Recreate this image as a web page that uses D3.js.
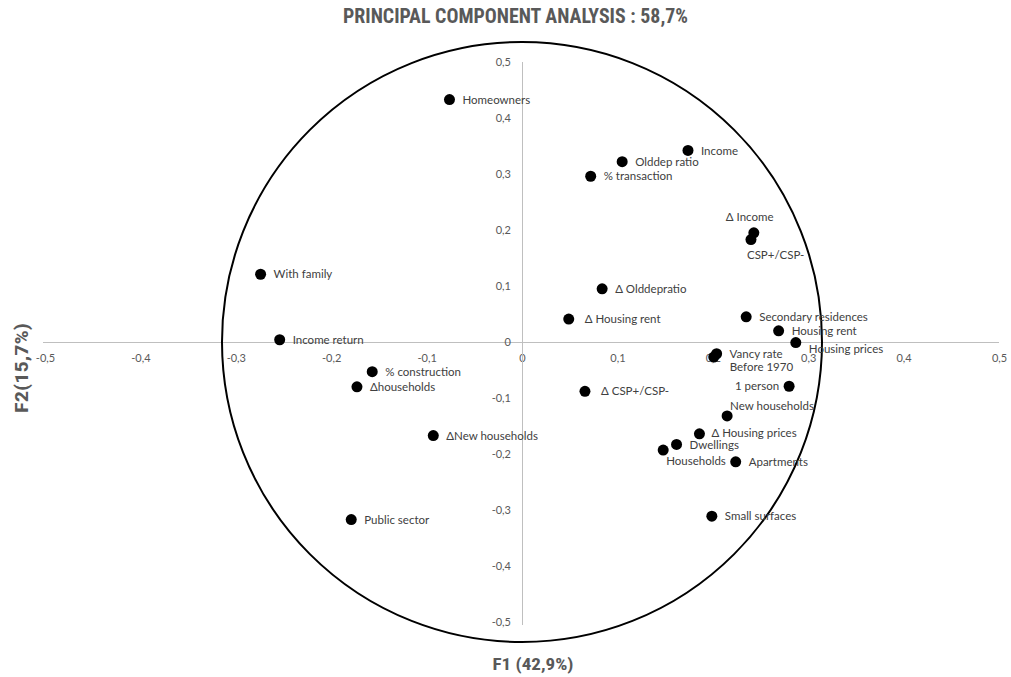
<!DOCTYPE html>
<html>
<head>
<meta charset="utf-8">
<script src="https://cdn.jsdelivr.net/npm/d3@7"></script>
<style>
  body { margin: 0; background: #fff; }
  svg { display: block; }
</style>
</head>
<body>
<div id="pca"></div>
<script>
// variable names and their coordinates on the first two components
var variables = ["Homeowners", "Income", "Olddep ratio", "% transaction", "\u0394 Income", "CSP+/CSP-",
    "With family", "\u0394 Olddepratio", "\u0394 Housing rent", "Income return", "Secondary residences",
    "Housing rent", "Housing prices", "Vancy rate", "Before 1970", "% construction", "\u0394households",
    "\u0394 CSP+/CSP-", "1 person", "New households", "\u0394New households", "\u0394 Housing prices",
    "Dwellings", "Households", "Apartments", "Public sector", "Small surfaces"];
var f1 = [-0.076, 0.174, 0.105, 0.072, 0.243, 0.240,
    -0.274, 0.084, 0.049, -0.254, 0.235,
    0.269, 0.287, 0.204, 0.201, -0.157, -0.173,
    0.066, 0.280, 0.215, -0.093, 0.186,
    0.162, 0.148, 0.224, -0.179, 0.199];
var f2 = [0.433, 0.342, 0.322, 0.296, 0.195, 0.183,
    0.121, 0.095, 0.041, 0.004, 0.045,
    0.020, -0.001, -0.021, -0.027, -0.053, -0.080,
    -0.088, -0.079, -0.132, -0.167, -0.164,
    -0.183, -0.193, -0.214, -0.317, -0.311];
var tickValues = [-0.5, -0.4, -0.3, -0.2, -0.1, 0, 0.1, 0.2, 0.3, 0.4, 0.5];

var titleText = "PRINCIPAL COMPONENT ANALYSIS : 58,7%";
var xTitle = "F1 (42,9%)";
var yTitle = "F2(15,7%)";

// label placement (pixels from the dot), default is right of the dot
var labelPlace = {
    "\u0394 Income": { dx: -28, dy: -16 },
    "CSP+/CSP-": { dx: -4, dy: 15 },
    "Housing prices": { dx: 13, dy: 6 },
    "Before 1970": { dx: 16, dy: 10 },
    "1 person": { dx: -10, dy: 0, anchor: "end" },
    "New households": { dx: 3, dy: -10 },
    "Households": { dx: 3, dy: 11 },
    "\u0394 Housing rent": { dx: 16, dy: 0 },
    "\u0394 CSP+/CSP-": { dx: 16, dy: 0 },
    "\u0394 Housing prices": { dx: 12, dy: -1 }
};

var width = 1011, height = 677;
var labelFont = "Lato, 'Open Sans', sans-serif";
var titleFont = "'Liberation Sans Narrow', 'Roboto Condensed', 'Liberation Sans', Arial, sans-serif";

var svg = d3.select("#pca").append("svg")
    .attr("width", width)
    .attr("height", height);

var xScale = d3.scaleLinear().domain([-0.5, 0.5]).range([45, 999]);
var yScale = d3.scaleLinear().domain([-0.5, 0.5]).range([622, 62]);

var axisColor = "#bfbfbf", tickColor = "#595959";

function commaFormat(d) {
    return d3.format(".1f")(d).replace(".", ",").replace(/^0,0$/, "0").replace("\u2212", "-");
}

// x axis through y = 0
var xAxis = svg.append("g")
    .attr("transform", "translate(0," + yScale(0) + ")")
    .call(d3.axisBottom(xScale).tickValues(tickValues).tickSize(0).tickPadding(12).tickFormat(commaFormat));
xAxis.select(".domain").attr("stroke", axisColor).attr("d", "M" + (xScale(-0.5) - 2) + ",0.5H" + xScale(0.5));
xAxis.selectAll("text").attr("fill", tickColor).style("font-family", labelFont).style("font-size", "11px");

// y axis through x = 0
var yAxis = svg.append("g")
    .attr("transform", "translate(" + xScale(0) + ",0)")
    .call(d3.axisLeft(yScale).tickValues(tickValues).tickSize(0).tickPadding(11).tickFormat(commaFormat));
yAxis.select(".domain").attr("stroke", axisColor).attr("d", "M0.5," + yScale(0.5) + "V" + (yScale(-0.5) + 3));
yAxis.selectAll("text").attr("fill", tickColor).style("font-family", labelFont).style("font-size", "11px");

// correlation circle
svg.append("circle")
    .attr("cx", xScale(0))
    .attr("cy", yScale(0))
    .attr("r", 300)
    .attr("fill", "none")
    .attr("stroke", "#000")
    .attr("stroke-width", 2);

var data = variables.map(function (name, i) {
    return { name: name, x: f1[i], y: f2[i] };
});

svg.append("g").selectAll("circle")
    .data(data)
    .enter().append("circle")
    .attr("cx", function (d) { return xScale(d.x); })
    .attr("cy", function (d) { return yScale(d.y); })
    .attr("r", 5.5)
    .attr("fill", "#000");

svg.append("g").selectAll("text")
    .data(data)
    .enter().append("text")
    .attr("x", function (d) {
        var p = labelPlace[d.name] || { dx: 13 };
        return xScale(d.x) + p.dx;
    })
    .attr("y", function (d) {
        var p = labelPlace[d.name] || { dy: 0 };
        return yScale(d.y) + (p.dy || 0);
    })
    .attr("dy", "0.35em")
    .attr("text-anchor", function (d) {
        var p = labelPlace[d.name];
        return p && p.anchor ? p.anchor : "start";
    })
    .attr("fill", "#404040")
    .style("font-family", labelFont)
    .style("font-size", "11.5px")
    .text(function (d) { return d.name; });

// titles
svg.append("text")
    .attr("x", 515.5)
    .attr("y", 16)
    .attr("dy", "0.35em")
    .attr("text-anchor", "middle")
    .attr("textLength", 345)
    .attr("lengthAdjust", "spacingAndGlyphs")
    .attr("fill", "#595959")
    .style("font-family", titleFont)
    .style("font-weight", "bold")
    .style("font-size", "20px")
    .text(titleText);

svg.append("text")
    .attr("x", 533)
    .attr("y", 664)
    .attr("dy", "0.35em")
    .attr("text-anchor", "middle")
    .attr("textLength", 81)
    .attr("lengthAdjust", "spacingAndGlyphs")
    .attr("fill", "#595959")
    .style("font-family", titleFont)
    .style("font-weight", "bold")
    .style("font-size", "17px")
    .text(xTitle);

svg.append("text")
    .attr("transform", "translate(22,368) rotate(-90)")
    .attr("dy", "0.35em")
    .attr("text-anchor", "middle")
    .attr("textLength", 90)
    .attr("lengthAdjust", "spacingAndGlyphs")
    .attr("fill", "#595959")
    .style("font-family", titleFont)
    .style("font-weight", "bold")
    .style("font-size", "18px")
    .text(yTitle);
</script>
</body>
</html>
